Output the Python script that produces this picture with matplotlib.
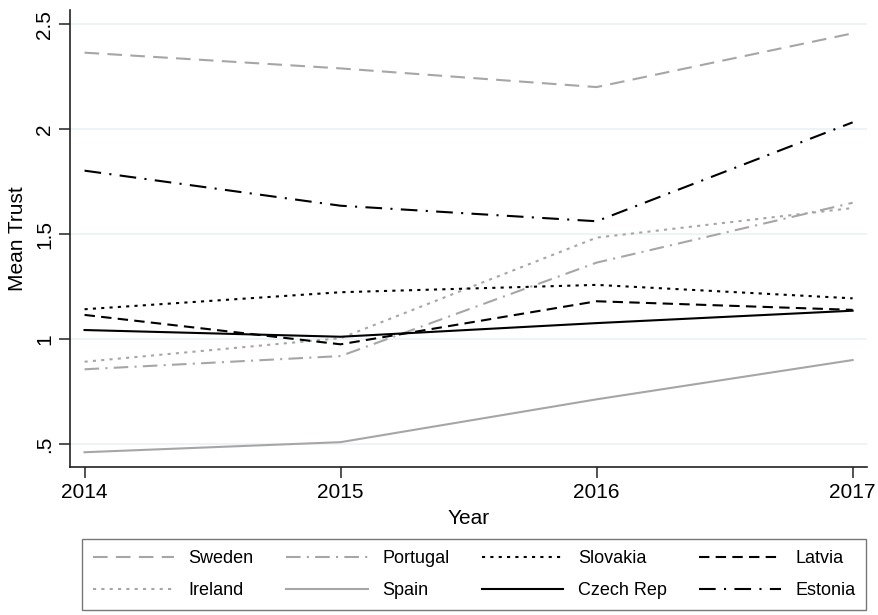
import matplotlib
matplotlib.use("Agg")
import matplotlib.pyplot as plt

plt.rcParams['font.family'] = ['Liberation Sans', 'DejaVu Sans']

years = [2014, 2015, 2016, 2017]

sweden = [2.365, 2.290, 2.201, 2.457]
portugal = [0.857, 0.920, 1.365, 1.650]
slovakia = [1.143, 1.224, 1.259, 1.195]
latvia = [1.116, 0.976, 1.181, 1.140]
ireland = [0.893, 1.005, 1.484, 1.625]
spain = [0.462, 0.510, 0.714, 0.901]
czech = [1.044, 1.012, 1.077, 1.136]
estonia = [1.803, 1.636, 1.562, 2.033]

grey = '#a6a6a6'
black = '#000000'

fig = plt.figure(figsize=(8.79, 6.15), dpi=100)
ax = fig.add_axes([0.0796, 0.2411, 0.9064, 0.7426])

# order chosen so a 4-column legend fills row by row like the original layout
series = [
    ('Sweden', sweden, grey, (0, (7, 4))),
    ('Ireland', ireland, grey, (0, (1.5, 2.5))),
    ('Portugal', portugal, grey, (0, (7, 3, 1, 3))),
    ('Spain', spain, grey, '-'),
    ('Slovakia', slovakia, black, (0, (1.5, 2.5))),
    ('Czech Rep', czech, black, '-'),
    ('Latvia', latvia, black, (0, (5, 3))),
    ('Estonia', estonia, black, (0, (8, 4, 1, 4))),
]

for name, vals, col, ls in series:
    ax.plot(years, vals, color=col, linestyle=ls, linewidth=1.5, label=name)

ax.set_xlim(2013.943, 2017.055)
ax.set_ylim(0.393, 2.568)
ax.set_xticks(years)
ax.set_xticklabels([str(y) for y in years])
ax.set_yticks([0.5, 1, 1.5, 2, 2.5])
ax.set_yticklabels(['.5', '1', '1.5', '2', '2.5'], rotation=90, va='center')

ax.grid(axis='y', color='#eaf2f3', linewidth=1.2)
ax.set_axisbelow(True)
for s in ['top', 'right']:
    ax.spines[s].set_visible(False)
for s in ['left', 'bottom']:
    ax.spines[s].set_color('#222222')
    ax.spines[s].set_linewidth(1.2)

ax.tick_params(axis='both', labelsize=15, length=8, width=1.1, color='#222222')
ax.set_xlabel('Year', fontsize=15, labelpad=5)
ax.set_ylabel('Mean Trust', fontsize=15, labelpad=6)

leg = fig.legend(loc='lower left', bbox_to_anchor=(0.0933, 0.008, 0.892, 0.116),
                 mode='expand', ncol=4, fontsize=13, handlelength=4.5,
                 frameon=True, fancybox=False, edgecolor='#555555',
                 borderaxespad=0, borderpad=0.6, labelspacing=0.85, handletextpad=0.8)
leg.get_frame().set_linewidth(1.0)

fig.savefig('out.png', dpi=100)
